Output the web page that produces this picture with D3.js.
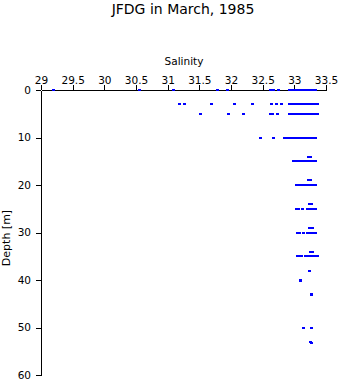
<!DOCTYPE html>
<html>
<head>
<meta charset="utf-8">
<script src="https://cdn.jsdelivr.net/npm/d3@7"></script>
<style>
html,body{margin:0;padding:0;background:#fff;}
svg{display:block;}
</style>
</head>
<body>
<svg id="chart" width="340" height="384"></svg>
<script>
const title = "JFDG in March, 1985";
const xLabel = "Salinity";
const yLabel = "Depth [m]";
const xTicks = [29, 29.5, 30, 30.5, 31, 31.5, 32, 32.5, 33, 33.5];
const yTicks = [0, 10, 20, 30, 40, 50, 60];

// depth levels (m) and the salinity samples observed at each level
const levels = [0, 3, 5, 10, 14, 15, 19, 20, 24, 25, 29, 30, 34, 35, 38, 40, 40.2, 43, 43.2, 50, 53, 53.3];
const salinity = [
  [29.19, 30.56, 31.09, 31.79, 31.95, 32.63, 32.67, 32.75, 32.92, 32.95, 32.98, 33.01, 33.04, 33.07, 33.10, 33.12, 33.15, 33.18, 33.22, 33.25, 33.28, 33.31, 33.34],
  [31.19, 31.27, 31.70, 32.06, 32.34, 32.64, 32.72, 32.79, 32.92, 32.95, 32.98, 33.01, 33.04, 33.07, 33.10, 33.13, 33.16, 33.19, 33.22, 33.25, 33.28, 33.31, 33.34, 33.37],
  [31.52, 31.96, 32.19, 32.62, 32.66, 32.74, 32.92, 32.95, 32.98, 33.01, 33.04, 33.07, 33.10, 33.13, 33.16, 33.19, 33.22, 33.25, 33.28, 33.31, 33.34, 33.36],
  [32.47, 32.67, 32.85, 32.88, 32.91, 32.94, 32.97, 33.00, 33.03, 33.06, 33.09, 33.12, 33.15, 33.18, 33.21, 33.24, 33.27, 33.30, 33.33, 33.34],
  [33.22, 33.25],
  [32.99, 33.02, 33.05, 33.08, 33.11, 33.14, 33.17, 33.20, 33.23, 33.26, 33.29, 33.32, 33.34],
  [33.23, 33.26],
  [33.03, 33.06, 33.09, 33.12, 33.15, 33.18, 33.21, 33.24, 33.27, 33.30, 33.33, 33.34],
  [33.24, 33.27],
  [33.04, 33.07, 33.13, 33.20, 33.23, 33.26, 33.29, 33.32, 33.34],
  [33.24, 33.28],
  [33.05, 33.08, 33.14, 33.20, 33.23, 33.26, 33.29, 33.32, 33.34],
  [33.26, 33.28],
  [33.05, 33.08, 33.11, 33.18, 33.21, 33.24, 33.27, 33.30, 33.33, 33.36],
  [33.24],
  [33.09],
  [33.09],
  [33.27],
  [33.27],
  [33.14, 33.27],
  [33.26],
  [33.27]
];

const points = [];
levels.forEach((d, i) => salinity[i].forEach(s => points.push({depth: d, sal: s})));

const svg = d3.select("#chart");
const x = d3.scaleLinear().domain([29, 33.5]).range([41, 326]);
const y = d3.scaleLinear().domain([0, 60]).range([90, 375]);

// title
svg.append("text")
  .attr("x", 183).attr("y", 14)
  .attr("text-anchor", "middle")
  .attr("font-family", "DejaVu Sans")
  .attr("font-size", 14)
  .attr("fill", "#000")
  .text(title);

// x axis (top)
const gx = svg.append("g")
  .attr("transform", "translate(0,90)")
  .call(d3.axisTop(x).tickValues(xTicks).tickFormat(d3.format("")).tickSize(5).tickSizeOuter(0).tickPadding(1));
gx.selectAll("text").attr("font-family", "DejaVu Sans").attr("font-size", 10.5).attr("fill", "#000");
gx.selectAll("line,path").attr("stroke", "#000").attr("shape-rendering", "crispEdges");

svg.append("text")
  .attr("x", 184).attr("y", 65)
  .attr("text-anchor", "middle")
  .attr("font-family", "DejaVu Sans")
  .attr("font-size", 10.5)
  .attr("fill", "#000")
  .text(xLabel);

// y axis (left)
const gy = svg.append("g")
  .attr("transform", "translate(41,0)")
  .call(d3.axisLeft(y).tickValues(yTicks).tickSize(5).tickSizeOuter(0).tickPadding(5));
gy.selectAll("text").attr("font-family", "DejaVu Sans").attr("font-size", 10.5).attr("fill", "#000");
gy.selectAll("line,path").attr("stroke", "#000").attr("shape-rendering", "crispEdges");

svg.append("text")
  .attr("transform", "translate(10,238) rotate(-90)")
  .attr("text-anchor", "middle")
  .attr("font-family", "DejaVu Sans")
  .attr("font-size", 11)
  .attr("fill", "#000")
  .text(yLabel);

// data markers
svg.append("g").selectAll("rect")
  .data(points)
  .join("rect")
  .attr("x", d => Math.round(x(d.sal) - 1.5))
  .attr("y", d => Math.round(y(d.depth) - 1))
  .attr("width", 3)
  .attr("height", 2)
  .attr("fill", "#0000ff")
  .attr("shape-rendering", "crispEdges");
</script>
</body>
</html>
